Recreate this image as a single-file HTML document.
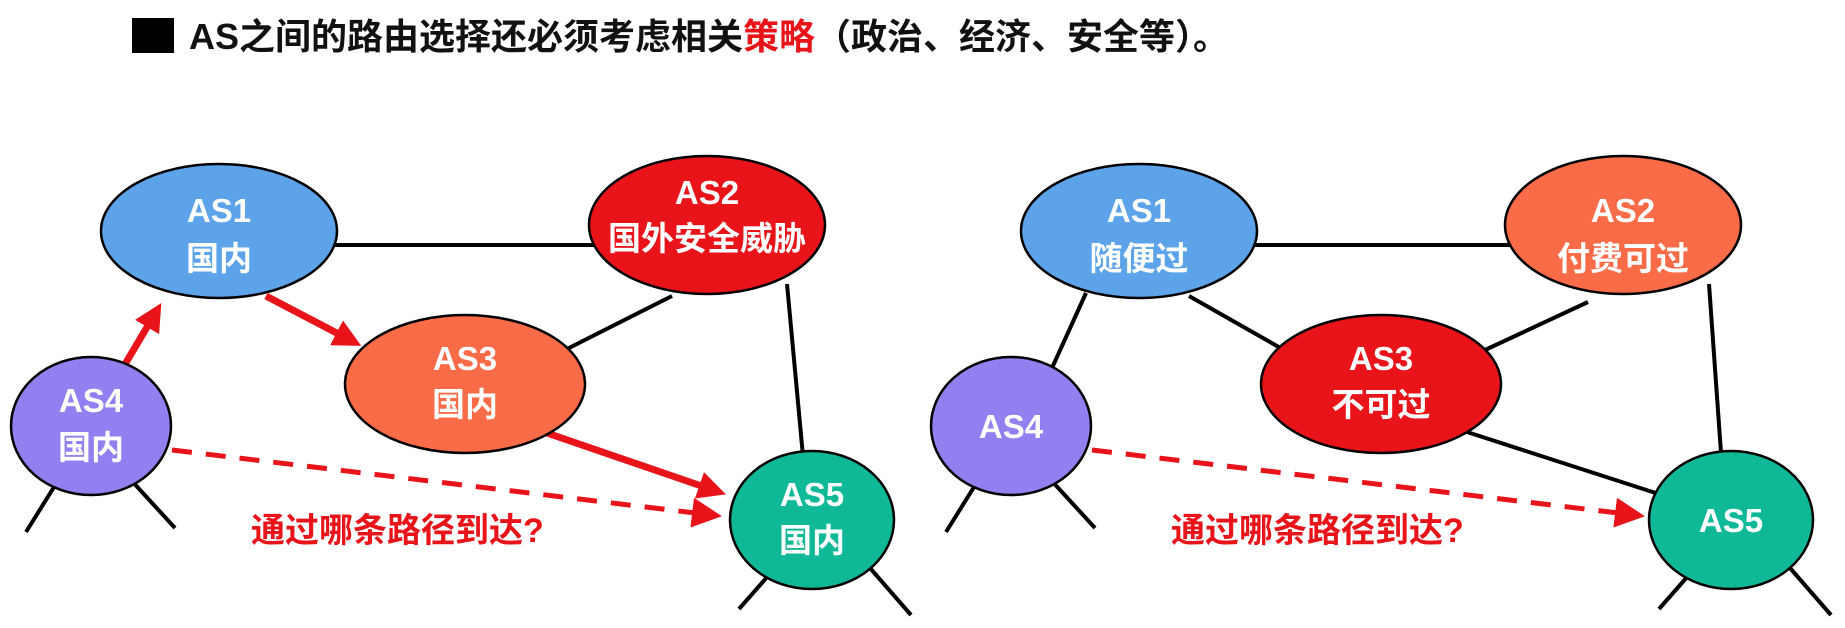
<!DOCTYPE html>
<html><head><meta charset="utf-8"><style>
html,body{margin:0;padding:0;background:#fff;width:1845px;height:628px;overflow:hidden}
svg{display:block}
text{font-family:"Liberation Sans","Noto Sans CJK SC",sans-serif;font-weight:bold}
</style></head><body>
<svg width="1845" height="628" viewBox="0 0 1845 628" xmlns="http://www.w3.org/2000/svg">
<defs>
<marker id="ah" markerWidth="4" markerHeight="4" refX="2.5" refY="2" orient="auto" markerUnits="strokeWidth"><path d="M0,0 L4,2 L0,4 z" fill="#e8141a"/></marker>
<marker id="ah2" markerWidth="6" markerHeight="6" refX="4" refY="3" orient="auto" markerUnits="strokeWidth"><path d="M0,0 L6,3 L0,6 z" fill="#e8141a"/></marker>
</defs>
<rect x="132" y="18" width="42" height="35" fill="#000"/>
<text x="189" y="49" font-size="36" fill="#111">AS之间的路由选择还必须考虑相关<tspan fill="#e8141a">策略</tspan>（政治、经济、安全等）。</text>

<g stroke="#000" stroke-width="4" fill="none">
<line x1="330" y1="245" x2="595" y2="245"/>
<line x1="672" y1="296" x2="565" y2="350"/>
<line x1="787" y1="284" x2="804" y2="467"/>
<line x1="26" y1="532" x2="59" y2="479"/><line x1="175" y1="528" x2="130" y2="479"/>
<line x1="739" y1="609" x2="775" y2="568"/><line x1="911" y1="615" x2="870" y2="568"/>
<line x1="1250" y1="245" x2="1510" y2="245"/>
<line x1="1086" y1="293" x2="1047" y2="379"/>
<line x1="1189" y1="296" x2="1284" y2="350"/>
<line x1="1588" y1="302" x2="1485" y2="350"/>
<line x1="1467" y1="432" x2="1668" y2="497"/>
<line x1="1709" y1="284" x2="1722" y2="467"/>
<line x1="946" y1="532" x2="979" y2="479"/><line x1="1095" y1="528" x2="1050" y2="479"/>
<line x1="1659" y1="609" x2="1695" y2="568"/><line x1="1831" y1="615" x2="1790" y2="568"/>
</g>

<g stroke="#e8141a" stroke-width="7" fill="none">
<line x1="118" y1="376" x2="156" y2="312" marker-end="url(#ah)"/>
<line x1="266" y1="296" x2="352" y2="341" marker-end="url(#ah)"/>
<line x1="544" y1="432" x2="716" y2="491" marker-end="url(#ah)"/>
</g>
<g stroke="#e8141a" stroke-width="5" fill="none" stroke-dasharray="20,14">
<line x1="172" y1="450" x2="712" y2="515" marker-end="url(#ah2)"/>
<line x1="1092" y1="450" x2="1635" y2="515" marker-end="url(#ah2)"/>
</g>

<g stroke="#000" stroke-width="2.5">
<ellipse cx="219" cy="231" rx="118" ry="67" fill="#5ca3ea"/>
<ellipse cx="707" cy="225" rx="118" ry="69" fill="#e8141a"/>
<ellipse cx="465" cy="384" rx="120" ry="69" fill="#fa6b47"/>
<ellipse cx="91" cy="426" rx="80" ry="69" fill="#9180f0"/>
<ellipse cx="812" cy="520" rx="82" ry="69" fill="#0fb896"/>
<ellipse cx="1139" cy="231" rx="118" ry="67" fill="#5ca3ea"/>
<ellipse cx="1623" cy="225" rx="118" ry="69" fill="#fa6b47"/>
<ellipse cx="1381" cy="384" rx="120" ry="69" fill="#e8141a"/>
<ellipse cx="1011" cy="426" rx="80" ry="69" fill="#9180f0"/>
<ellipse cx="1731" cy="520" rx="82" ry="69" fill="#0fb896"/>
</g>

<g fill="#fff" font-size="33" text-anchor="middle">
<text x="219" y="222">AS1</text><text x="219" y="270">国内</text>
<text x="707" y="204">AS2</text><text x="707" y="250">国外安全威胁</text>
<text x="465" y="370">AS3</text><text x="465" y="416">国内</text>
<text x="91" y="412">AS4</text><text x="91" y="459">国内</text>
<text x="812" y="506">AS5</text><text x="812" y="552">国内</text>
<text x="1139" y="222">AS1</text><text x="1139" y="270">随便过</text>
<text x="1623" y="222">AS2</text><text x="1623" y="270">付费可过</text>
<text x="1381" y="370">AS3</text><text x="1381" y="416">不可过</text>
<text x="1011" y="438">AS4</text>
<text x="1731" y="532">AS5</text>
</g>
<g fill="#e8141a" font-size="34">
<text x="251" y="542">通过哪条路径到达?</text>
<text x="1171" y="542">通过哪条路径到达?</text>
</g>
</svg>
</body></html>
